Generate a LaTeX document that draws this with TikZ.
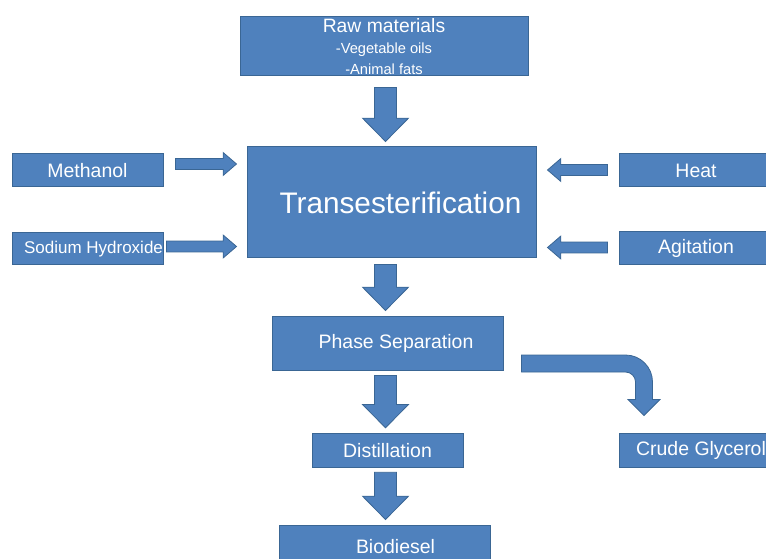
\documentclass[tikz,border=0pt]{standalone}
\usepackage{fontspec}
\setmainfont{Liberation Sans}
\usetikzlibrary{calc}
\definecolor{procfill}{HTML}{4F81BD}
\definecolor{procedge}{HTML}{3A6694}

\begin{document}
\begin{tikzpicture}[
      x=0.75pt, y=-0.75pt,
      box/.style={draw=procedge, fill=procfill, line width=0.75pt, text=white,
                  align=center, inner sep=0pt, font=\fontsize{14.6}{17}\selectfont},
      fat/.style n args={3}{draw=procedge, fill=procfill, line width=0.6pt,
        to path={let \p1=(\tikztostart), \p2=(\tikztotarget),
          \n1={veclen(\x2-\x1,\y2-\y1)-#3}, \p3=($(\p1)!\n1!(\p2)$) in
          ($(\p1)!#1!90:(\p2)$) -- ($(\p3)!#1!90:(\p2)$) -- ($(\p3)!#2!90:(\p2)$)
          -- (\p2) -- ($(\p3)!#2!-90:(\p2)$) -- ($(\p3)!#1!-90:(\p2)$)
          -- ($(\p1)!#1!-90:(\p2)$) -- cycle}},
      arrv/.style={fat={8.25pt}{17.25pt}{17.5pt}},
      arrh/.style={fat={4.1pt}{8.6pt}{10pt}},
      bent/.style={draw=procedge, fill=procfill, line width=0.6pt}
    ]
    \useasboundingbox (0,0) rectangle (766,559);

    \node[box, minimum width=216pt, minimum height=44.25pt,
          font=\fontsize{11}{16}\selectfont] (raw) at (384,46.5)
      {{\fontsize{14.5}{17}\selectfont Raw materials}\\-Vegetable oils\\-Animal fats};
    \node[box, minimum width=216.75pt, minimum height=83.25pt,
          font=\fontsize{22.3}{27}\selectfont] (trans) at (391.5,202.5)
      {\hspace*{13.5pt}Transesterification};
    \node[box, minimum width=113.25pt, minimum height=24.75pt] (methanol)
      at (87.5,170.5) {Methanol};
    \node[box, minimum width=113.25pt, minimum height=24pt,
          font=\fontsize{12.75}{15}\selectfont] (sodium) at (87.5,249)
      {\hspace*{9pt}Sodium Hydroxide};
    \node[box, minimum width=115.5pt, minimum height=24.75pt] (heat)
      at (696,170.5) {Heat};
    \node[box, minimum width=115.5pt, minimum height=24.75pt] (agitation)
      at (696,248.5) {Agitation};
    \node[box, minimum width=173.25pt, minimum height=40.5pt] (phase)
      at (387.5,343) {\hspace*{12.75pt}Phase Separation};
    \node[box, minimum width=113.25pt, minimum height=25.5pt] (distill)
      at (387.5,450.3) {Distillation};
    \node[box, minimum width=115.5pt, minimum height=25.5pt] (glycerol)
      at (696,450) {\hspace*{7.5pt}Crude Glycerol};
    \node[box, minimum width=158.25pt, minimum height=33pt] (bio)
      at (384.5,547) {\hspace*{16.5pt}Biodiesel};

    \draw[arrv] ($(raw.south)+(1.5,11)$) to ($(raw.south |- trans.north)+(1.5,-5)$);
    \draw[arrv] ($(trans.south)+(-6,6)$) to ($(trans.south |- phase.north)+(-6,-5)$);
    \draw[arrv] ($(phase.south)+(-2,5)$) to ($(phase.south |- distill.north)+(-2,-5)$);
    \draw[arrv] ($(distill.south)+(-2,4.5)$) to ($(distill.south |- bio.north)+(-2,-5)$);

    \draw[arrh] ($(methanol.east)+(12,-6.5)$) to ($(methanol.east -| trans.west)+(-10,-6.5)$);
    \draw[arrh] ($(sodium.east)+(3,-2.5)$) to ($(sodium.east -| trans.west)+(-10,-2.5)$);
    \draw[arrh] ($(heat.west)+(-11,-0.5)$) to ($(heat.west -| trans.east)+(11,-0.5)$);
    \draw[arrh] ($(agitation.west)+(-11,-1)$) to ($(agitation.west -| trans.east)+(11,-1)$);

    \coordinate (bendstart) at ($(phase.east)+(18,20.5)$);
    \coordinate (bendtip) at ($(glycerol.north west)+(25.5,-17)$);
    \coordinate (bendcorner) at (bendtip |- bendstart);
    \draw[bent] ([shift={(0,-8.5)}]bendstart) -- ([shift={(-18.5,-8.5)}]bendcorner)
      arc[start angle=90, end angle=0, radius=20.25pt]
      -- ([shift={(8.5,-16)}]bendtip) -- ([shift={(16,-16)}]bendtip) -- (bendtip)
      -- ([shift={(-16,-16)}]bendtip) -- ([shift={(-8.5,-16)}]bendtip)
      -- ([shift={(-8.5,18.5)}]bendcorner)
      arc[start angle=0, end angle=90, radius=7.5pt]
      -- ([shift={(0,8.5)}]bendstart) -- cycle;
  \end{tikzpicture}
\end{document}
